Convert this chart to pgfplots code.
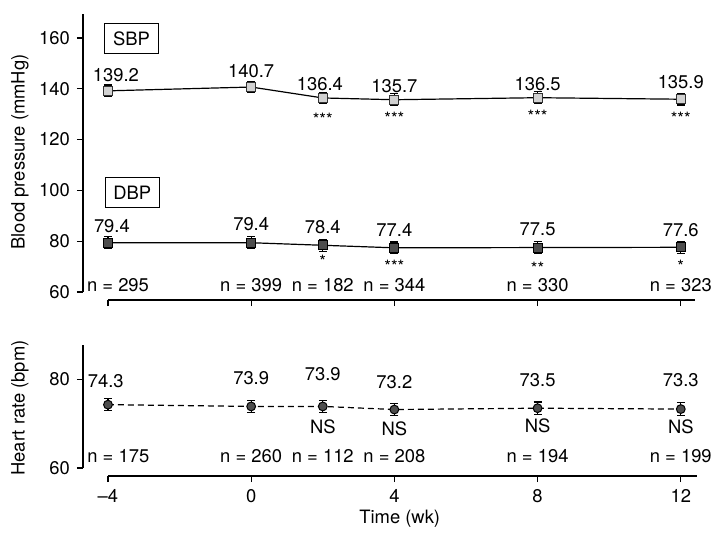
\documentclass[border=0pt]{standalone}
\usepackage{pgfplots}
\pgfplotsset{compat=1.18}
\usepackage{fontspec}
\setmainfont{TeX Gyre Heros}

\newcommand\lab{\fontsize{9.2}{11}\selectfont}
\newcommand\sig{\fontsize{8.5}{9}\selectfont}
\definecolor{sbpfill}{HTML}{D2D2D2}
\definecolor{dark}{HTML}{4D4D4D}

\pgfplotsset{
  panel/.style={
    axis x line*=bottom, axis y line*=left,
    axis line style={draw=none},
    tick align=outside, major tick length=3pt,
    tick style={black, line width=0.65pt},
    ticklabel style={font=\lab},
    /pgf/number format/assume math mode=true,
    xmin=-4.698, xmax=12.6, x=17.9pt,
    clip=false,
    xtick={-4,0,4,8,12},
    every axis y label/.style={at={(axis description cs:0,0.515)}, xshift=-31.5pt,
      rotate=90, anchor=center, font=\lab},
  },
  ebar/.style={error bars/.cd, y dir=both, y explicit,
    error bar style={line width=0.6pt, black},
    error mark options={rotate=90, mark size=2pt, line width=0.6pt, black}},
}

\begin{document}
\begin{tikzpicture}
% blood pressure
\begin{axis}[panel, at={(0,0)}, anchor=south west,
    y=1.27pt, ymin=56.85, ymax=170,
    ytick={60,80,100,120,140,160}, xticklabel=\empty,
    ylabel={Blood pressure (mmHg)}]
\path (axis cs:-7.016,174.96) rectangle (axis cs:12.928,-36.06);
\draw[line width=0.65pt] (axis cs:-4.698,60) -- (axis cs:-4.698,169.5);
\draw[line width=0.65pt] (axis cs:-4,56.85) -- (axis cs:12.4,56.85);

\addplot[black, line width=0.6pt, mark=square*, mark size=2.25pt,
  mark options={fill=sbpfill, draw=black!80, line width=0.5pt}, ebar]
  coordinates {(-4,139.2) +- (0,2.3) (0,140.7) +- (0,2.3) (2,136.4) +- (0,2.3)
               (4,135.7) +- (0,2.3) (8,136.5) +- (0,2.3) (12,135.9) +- (0,2.3)};
\addplot[black, line width=0.6pt, mark=square*, mark size=2.25pt,
  mark options={fill=dark, draw=black, line width=0.5pt}, ebar]
  coordinates {(-4,79.4) +- (0,2.3) (0,79.4) +- (0,2.3) (2,78.4) +- (0,2.3)
               (4,77.4) +- (0,2.3) (8,77.5) +- (0,2.3) (12,77.6) +- (0,2.3)};

\node[draw, line width=0.5pt, minimum width=27.2pt, minimum height=15.2pt, inner sep=0pt, font=\lab]
  at (axis cs:-3.34,159.7) {SBP};
\node[draw, line width=0.5pt, minimum width=27.2pt, minimum height=15.2pt, inner sep=0pt, font=\lab]
  at (axis cs:-3.32,99.25) {DBP};

\begin{scope}[every node/.style={anchor=base, font=\lab, inner sep=0pt}]
\node at (axis cs:-3.78,142.8) {139.2};
\node at (axis cs:0,144.5) {140.7};
\node at (axis cs:1.92,139.5) {136.4};
\node at (axis cs:4,138.5) {135.7};
\node at (axis cs:8,139.25) {136.5};
\node at (axis cs:12,140.2) {135.9};
\node at (axis cs:-3.89,83.5) {79.4};
\node at (axis cs:0,84.4) {79.4};
\node at (axis cs:2,83.1) {78.4};
\node at (axis cs:4,81.8) {77.4};
\node at (axis cs:8,82.4) {77.5};
\node at (axis cs:12,82.05) {77.6};
\node at (axis cs:-3.72,60.4) {n = 295};
\node at (axis cs:0,60.4) {n = 399};
\node at (axis cs:2,60.4) {n = 182};
\node at (axis cs:4,60.4) {n = 344};
\node at (axis cs:8,60.4) {n = 330};
\node at (axis cs:12,60.4) {n = 323};
\end{scope}
\begin{scope}[every node/.style={anchor=base, font=\sig, inner sep=0pt}]
\node at (axis cs:2,125.6) {***};
\node at (axis cs:4,125.8) {***};
\node at (axis cs:8,126.7) {***};
\node at (axis cs:12,125.8) {***};
\node at (axis cs:2,69.5) {*};
\node at (axis cs:4,67.6) {***};
\node at (axis cs:8,66.9) {**};
\node at (axis cs:12,67.8) {*};
\end{scope}
\end{axis}

% heart rate
\begin{axis}[panel, at={(0,-88pt)}, anchor=south west,
    y=2.215pt, ymin=58.19, ymax=88,
    ytick={60,80}, xticklabels={\textendash4,0,4,8,12},
    ylabel={Heart rate (bpm)},
    xlabel={Time (wk)},
    xlabel style={at={(axis description cs:0.5115,0)}, anchor=base, yshift=-23.5pt, font=\lab}]
\draw[line width=0.65pt] (axis cs:-4.698,60) -- (axis cs:-4.698,87.7);
\draw[line width=0.65pt] (axis cs:-4,58.19) -- (axis cs:12.45,58.19);

\addplot[black, line width=0.6pt, dash pattern=on 3pt off 2pt, mark=*, mark size=2.2pt,
  mark options={fill=dark, draw=black, line width=0.5pt, solid}, ebar]
  coordinates {(-4,74.3) +- (0,1.4) (0,73.9) +- (0,1.4) (2,73.9) +- (0,1.4)
               (4,73.2) +- (0,1.4) (8,73.5) +- (0,1.4) (12,73.3) +- (0,1.4)};

\begin{scope}[every node/.style={anchor=base, font=\lab, inner sep=0pt}]
\node at (axis cs:-4.06,78.15) {74.3};
\node at (axis cs:0,78.9) {73.9};
\node at (axis cs:2,79.8) {73.9};
\node at (axis cs:4,77.9) {73.2};
\node at (axis cs:8,78.45) {73.5};
\node at (axis cs:12,78.3) {73.3};
\node at (axis cs:2,67.9) {NS};
\node at (axis cs:4,67.4) {NS};
\node at (axis cs:8,68.0) {NS};
\node at (axis cs:12,67.8) {NS};
\node at (axis cs:-3.71,61.35) {n = 175};
\node at (axis cs:0,61.35) {n = 260};
\node at (axis cs:2,61.35) {n = 112};
\node at (axis cs:4,61.35) {n = 208};
\node at (axis cs:8,61.35) {n = 194};
\node at (axis cs:12,61.35) {n = 199};
\end{scope}
\end{axis}
\end{tikzpicture}
\end{document}
